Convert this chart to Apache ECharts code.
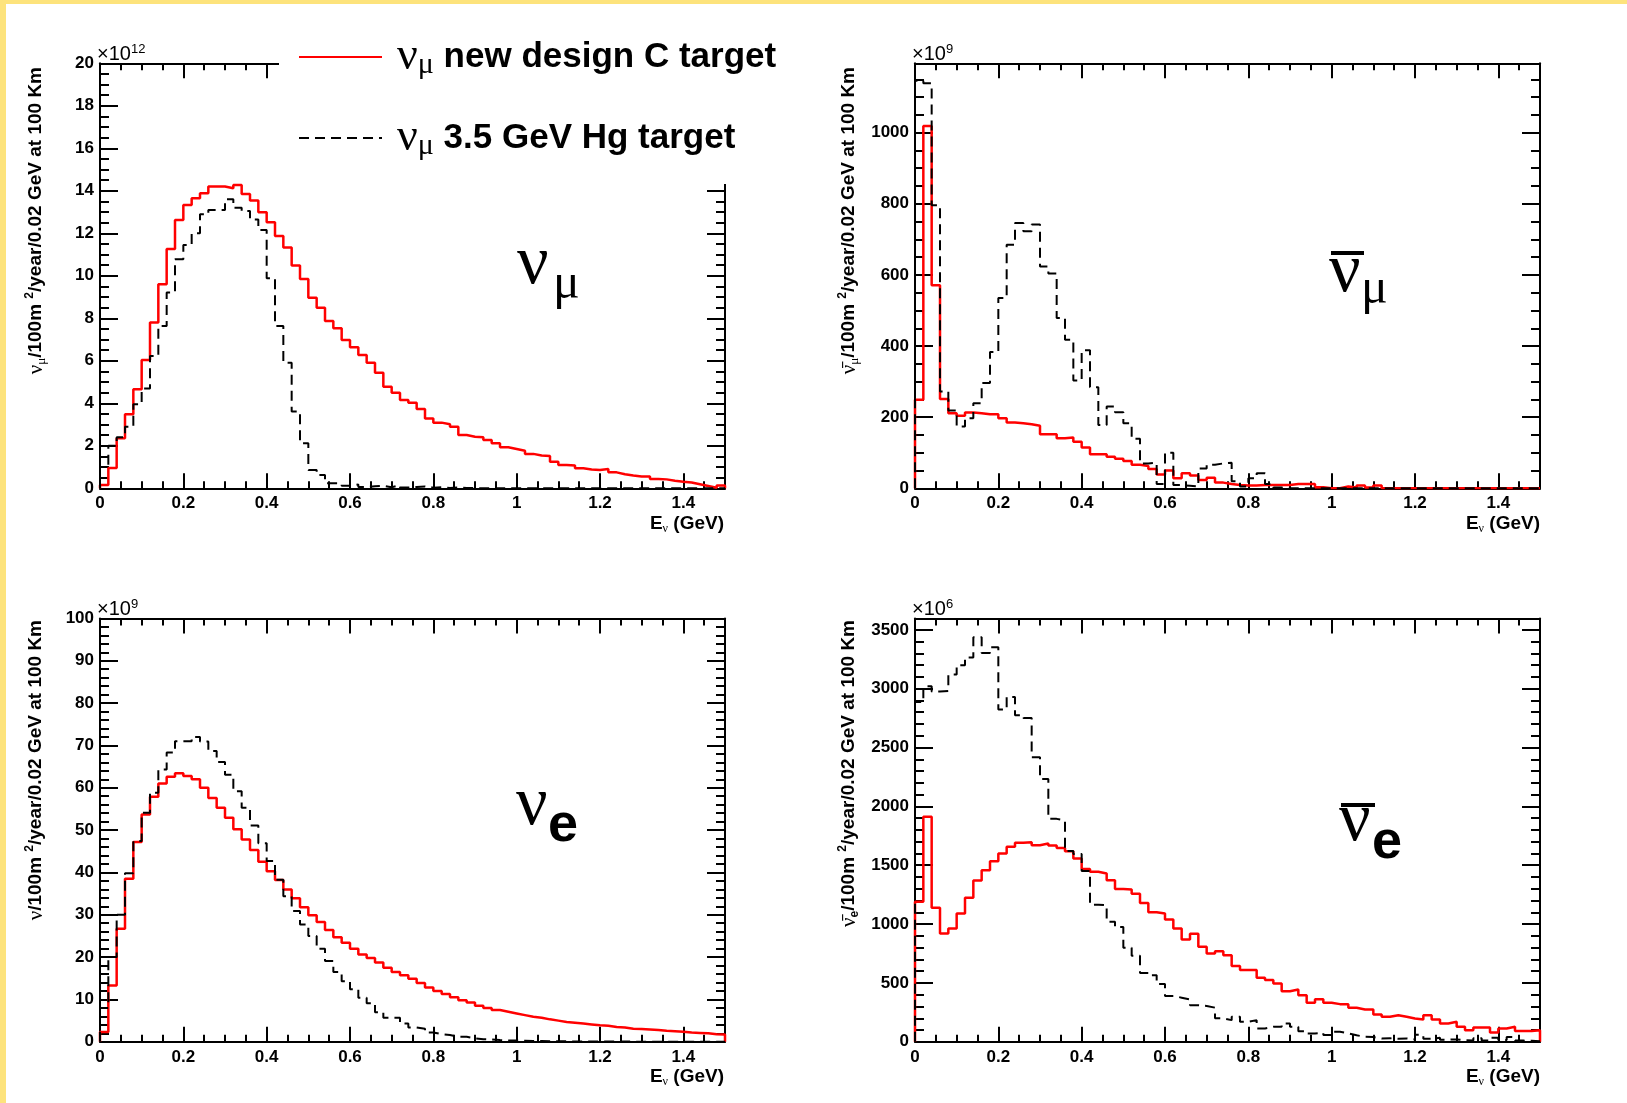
<!DOCTYPE html>
<html><head><meta charset="utf-8">
<script src="https://cdn.jsdelivr.net/npm/echarts@6/dist/echarts.min.js"></script>
<style>html,body{margin:0;padding:0;background:#fff}#c{width:1627px;height:1103px}</style>
</head><body><div id="c"></div><script>
// ---------------- data (bin width 0.02 GeV, 75 bins from 0 to 1.5 GeV) ----------------
const BIN = 0.02;
const EMAX = 1.5;
// nu_mu flux (x1e12)
const nuMuNew = [0.16,0.95,2.35,3.48,4.66,6.04,7.8,9.6,11.26,12.63,13.33,13.65,13.88,14.2,14.2,14.12,14.27,13.85,13.54,12.99,12.52,11.87,11.33,10.48,9.85,8.97,8.5,7.87,7.53,6.98,6.64,6.27,5.91,5.44,4.78,4.5,4.16,4.03,3.73,3.29,3.09,3.01,2.9,2.51,2.43,2.4,2.27,2.12,1.93,1.85,1.77,1.62,1.54,1.52,1.25,1.1,1.07,0.94,0.89,0.86,0.91,0.75,0.66,0.6,0.55,0.55,0.44,0.42,0.36,0.31,0.27,0.19,0.11,0.03,0.13];
const nuMuHg  = [1.0,2.0,2.4,2.9,3.95,4.7,6.23,7.64,9.22,10.78,11.45,12.0,12.9,13.1,13.1,13.6,13.2,13.05,12.65,12.16,9.88,7.64,5.91,3.61,2.12,0.86,0.63,0.24,0.24,0.12,0.18,0.06,0.1,0.12,0.05,0.14,0.04,0.06,0.09,0.03,0.05,0.02,0.04,0.02,0.01,0,0,0,0,0,0,0,0,0,0,0,0,0,0,0,0,0,0,0,0,0,0,0,0,0,0,0,0,0,0];
// anti nu_mu flux (x1e9)
const nuMuBarNew = [249,1019,571,251,211,204,213,211,208,208,197,185,183,180,176,152,152,141,143,131,115,96,96,89,83,77,66,63,54,39,50,28,42,36,23,30,16,12,9,8,8,9,9,9,9,12,12,12,3,0,0,5,2,8,2,8,0,0,0,0,0,0,0,0,0,0,0,0,0,0,0,0,0,0,0];
const nuMuBarHg  = [1146,1139,796,272,219,174,197,239,296,383,535,685,746,723,742,624,604,479,418,303,388,284,178,230,214,183,139,70,72,12,100,9,7,5,56,66,70,72,20,5,28,42,12,2,0,0,0,0,0,0,0,0,0,0,0,0,0,0,0,0,0,0,0,0,0,0,0,0,0,0,0,0,0,0,0];
// nu_e flux (x1e9)
const nuENew = [2.3,13.3,26.7,38.5,47.2,53.7,57.9,61.0,62.6,63.4,62.8,62.0,60.0,57.6,55.3,52.9,50.2,47.8,45.3,42.5,40.3,38.2,36.0,33.9,31.8,29.9,28.3,26.4,24.7,23.4,22.0,20.6,19.8,18.7,17.5,16.5,15.7,14.9,13.9,12.8,12.0,11.3,10.5,9.8,9.3,8.5,8.0,7.5,7.1,6.7,6.3,5.9,5.7,5.3,5.0,4.7,4.5,4.3,4.1,3.9,3.8,3.5,3.4,3.1,3.0,2.9,2.8,2.6,2.5,2.4,2.2,2.1,2.0,1.8,1.7];
const nuEHg  = [8,20,30,39.8,47.4,54.1,58.8,64.3,68.3,71.0,71.0,72.0,70.9,68.7,66.1,63.1,59.2,55.3,51.1,46.9,42.7,38.3,34.4,30.9,27.7,25.0,22.0,19.1,16.5,14.3,12.4,10.4,9.1,7.0,5.7,5.7,4.3,3.4,3.1,2.2,1.8,1.6,1.2,1.2,0.8,0.6,0.55,0.4,0.3,0.3,0.25,0.2,0.2,0.15,0.15,0.1,0.1,0.08,0.08,0.06,0.06,0.05,0.05,0.04,0.04,0.03,0.02,0.02,0.02,0.01,0.01,0.01,0,0,0];
// anti nu_e flux (x1e6)
const nuEBarNew = [1189,1911,1138,920,962,1090,1223,1370,1458,1534,1599,1656,1690,1695,1670,1684,1667,1647,1619,1557,1469,1444,1429,1373,1299,1294,1257,1180,1101,1090,1039,962,869,917,807,750,770,736,643,609,609,544,524,495,430,444,396,331,362,331,320,320,289,275,275,232,212,226,212,198,190,226,190,156,170,127,99,122,122,80,113,127,91,91,99];
const nuEBarHg  = [2887,3020,2975,2980,3120,3200,3265,3436,3303,3351,2822,2930,2774,2751,2417,2233,1894,1880,1620,1596,1450,1165,1160,1020,975,800,730,585,565,490,390,375,360,310,305,290,200,184,212,170,184,113,127,127,156,127,90,71,76,57,85,71,55,42,40,28,30,25,28,20,60,25,35,18,20,14,12,30,12,35,15,40,10,8,5];

const seriesNames = ['new design C target', '3.5 GeV Hg target'];
const xTickLabels = ['0','0.2','0.4','0.6','0.8','1','1.2','1.4'];

// ---------------- layout / style ----------------
const SANS = '"Liberation Sans", Arial, Helvetica, sans-serif';
const SERIF = '"Liberation Serif", "Times New Roman", serif';

const panels = [
  {left:100, top:63.3, width:625, height:425, ymax:20, major:2, minor:0.5, red:nuMuNew, black:nuMuHg, hideMax:false},
  {left:915, top:63.3, width:625, height:425, ymax:1195, major:200, minor:50, red:nuMuBarNew, black:nuMuBarHg, hideMax:true},
  {left:100, top:618.4, width:625, height:423.4, ymax:100, major:10, minor:2, red:nuENew, black:nuEHg, hideMax:false},
  {left:915, top:618.4, width:625, height:423.4, ymax:3597, major:500, minor:100, red:nuEBarNew, black:nuEBarHg, hideMax:true}
];

function histPoints(vals){
  const pts = [[0,0]];
  vals.forEach((v,i)=>pts.push([+(i*BIN).toFixed(2), v]));
  pts.push([EMAX, vals[vals.length-1]]);
  pts.push([EMAX, 0]);
  return pts;
}

const lineAx = {show:true, onZero:false, lineStyle:{color:'#000', width:2}};
const noLine = {show:false, onZero:false};
function tick(len){ return {show:true, inside:true, length:len, lineStyle:{color:'#000', width:2}}; }
const labelStyle = {color:'#000', fontFamily:SANS, fontWeight:'bold', fontSize:17};
const xFmt = (v)=>{const k=Math.round(v/0.2); return (Math.abs(v-k*0.2)<1e-6 && k<xTickLabels.length)? xTickLabels[k] : '';};

const grid=[], xAxis=[], yAxis=[], series=[];
panels.forEach((p,g)=>{
  const gm = 2*g, gn = 2*g+1;   // major-tick grid and minor-tick grid share the same rectangle
  const rect = {left:p.left, top:p.top, width:p.width, height:p.height, containLabel:false};
  grid.push(Object.assign({}, rect), Object.assign({}, rect));
  // x axes
  xAxis.push({type:'value', gridIndex:gm, position:'bottom', offset:0, min:0, max:EMAX, interval:0.2,
    axisLine:lineAx, axisTick:tick(15), splitLine:{show:false},
    axisLabel:Object.assign({show:true, margin:7, showMaxLabel:false, formatter:xFmt}, labelStyle)});
  xAxis.push({type:'value', gridIndex:gm, position:'top', offset:0, min:0, max:EMAX, interval:0.2,
    axisLine:lineAx, axisTick:tick(15), axisLabel:{show:false}, splitLine:{show:false}});
  xAxis.push({type:'value', gridIndex:gn, position:'bottom', offset:0, min:0, max:EMAX, interval:0.05,
    axisLine:noLine, axisTick:tick(7), axisLabel:{show:false}, splitLine:{show:false}});
  xAxis.push({type:'value', gridIndex:gn, position:'top', offset:0, min:0, max:EMAX, interval:0.05,
    axisLine:noLine, axisTick:tick(7), axisLabel:{show:false}, splitLine:{show:false}});
  // y axes
  yAxis.push({type:'value', gridIndex:gm, position:'left', offset:0, min:0, max:p.ymax, interval:p.major,
    axisLine:lineAx, axisTick:tick(18), splitLine:{show:false},
    axisLabel:Object.assign({show:true, margin:6, showMaxLabel:!p.hideMax, formatter:(v)=>String(v)}, labelStyle)});
  yAxis.push({type:'value', gridIndex:gm, position:'right', offset:0, min:0, max:p.ymax, interval:p.major,
    axisLine:lineAx, axisTick:tick(18), axisLabel:{show:false}, splitLine:{show:false}});
  yAxis.push({type:'value', gridIndex:gn, position:'left', offset:0, min:0, max:p.ymax, interval:p.minor,
    axisLine:noLine, axisTick:tick(9), axisLabel:{show:false}, splitLine:{show:false}});
  yAxis.push({type:'value', gridIndex:gn, position:'right', offset:0, min:0, max:p.ymax, interval:p.minor,
    axisLine:noLine, axisTick:tick(9), axisLabel:{show:false}, splitLine:{show:false}});

  series.push({type:'line', name:seriesNames[0], xAxisIndex:4*g, yAxisIndex:4*g, step:'end', symbol:'none',
    data:histPoints(p.red), lineStyle:{color:'#ff0000', width:2.5}, itemStyle:{color:'#ff0000'}, z:2});
  series.push({type:'line', name:seriesNames[1], xAxisIndex:4*g, yAxisIndex:4*g, step:'end', symbol:'none',
    data:histPoints(p.black), lineStyle:{color:'#000', width:2, type:[10,6]}, itemStyle:{color:'#000'}, z:3});
});

// ---------------- text ----------------
const yTitleRich = {
  g:{fontFamily:SERIF, fontWeight:'normal', fontSize:21, lineHeight:24},
  sb:{fontFamily:SERIF, fontWeight:'normal', fontSize:13, lineHeight:13, verticalAlign:'bottom'},
  sbs:{fontFamily:SANS, fontWeight:'bold', fontSize:12, lineHeight:12, verticalAlign:'bottom'},
  sp:{fontFamily:SANS, fontWeight:'bold', fontSize:12, lineHeight:12, verticalAlign:'top'}
};
const yTitles = [
  {x:36, y:67, text:'{g|ν}{sb|μ}/100m {sp|2}/year/0.02 GeV at 100 Km'},
  {x:849, y:67, text:'{g|ν̄}{sb|μ}/100m {sp|2}/year/0.02 GeV at 100 Km'},
  {x:36, y:620, text:'{g|ν}/100m {sp|2}/year/0.02 GeV at 100 Km'},
  {x:849, y:620, text:'{g|ν̄}{sbs|e}/100m {sp|2}/year/0.02 GeV at 100 Km'}
];
const expLabels = [
  {x:97, y:65, text:'×10{sp|12}'},
  {x:912, y:65, text:'×10{sp|9}'},
  {x:97, y:620, text:'×10{sp|9}'},
  {x:912, y:620, text:'×10{sp|6}'}
];
const xTitles = [
  {x:724, y:535}, {x:1540, y:535}, {x:724, y:1088}, {x:1540, y:1088}
];

const graphic = [
  {type:'rect', shape:{x:0,y:0,width:1627,height:4}, style:{fill:'#FDE37C'}, z:0, silent:true},
  {type:'rect', shape:{x:0,y:0,width:6,height:1103}, style:{fill:'#FDE37C'}, z:0, silent:true},
  // legend background (white, covers part of the frame)
  {type:'rect', shape:{x:279,y:20,width:520,height:164}, style:{fill:'#fff'}, z:3, silent:true}
];
yTitles.forEach(t=>graphic.push({type:'text', x:t.x, y:t.y, rotation:Math.PI/2, z:5, silent:true,
  style:{text:t.text, fill:'#000', font:'bold 19px '+SANS, lineHeight:24, textAlign:'right', textVerticalAlign:'middle', verticalAlign:'middle', rich:yTitleRich}}));
expLabels.forEach(t=>graphic.push({type:'text', x:t.x, y:t.y, z:5, silent:true,
  style:{text:t.text, fill:'#000', font:'20px '+SANS, lineHeight:22, textAlign:'left', textVerticalAlign:'bottom', verticalAlign:'bottom',
    rich:{sp:{fontFamily:SANS, fontSize:13, lineHeight:13, verticalAlign:'top'}}}}));
xTitles.forEach(t=>graphic.push({type:'text', x:t.x, y:t.y, z:5, silent:true,
  style:{text:'E{sb|ν} (GeV)', fill:'#000', font:'bold 19px '+SANS, lineHeight:22, textAlign:'right', textVerticalAlign:'bottom', verticalAlign:'bottom',
    rich:{sb:{fontFamily:SERIF, fontWeight:'normal', fontSize:12, lineHeight:12, verticalAlign:'bottom'}}}}));

// big panel labels
function big(x,y,text,font){ return {type:'text', x:x, y:y, z:5, silent:true, style:{text:text, fill:'#000', font:font, textAlign:'left', textVerticalAlign:'middle', verticalAlign:'middle'}}; }
const NU = '70px '+SERIF, MU = '50px '+SERIF, EE = 'bold 54px '+SANS;
graphic.push(big(517,265,'ν',NU), big(553,285,'μ',MU));
graphic.push(big(1329,273,'ν',NU), big(1361,290,'μ',MU));
graphic.push({type:'rect', shape:{x:1331,y:251,width:33,height:4}, style:{fill:'#000'}, z:5, silent:true});
graphic.push(big(516,806,'ν',NU), big(548,826,'e',EE));
graphic.push(big(1339,822,'ν',NU), big(1372,843,'e',EE));
graphic.push({type:'rect', shape:{x:1341,y:803,width:34,height:4}, style:{fill:'#000'}, z:5, silent:true});

const option = {
  animation:false,
  backgroundColor:'#fff',
  grid, xAxis, yAxis, series, graphic,
  legend:{
    show:true, orient:'vertical', left:293, top:29, itemWidth:83, itemHeight:20, itemGap:35,
    selectedMode:false, data:seriesNames, z:6,
    itemStyle:{opacity:0, borderWidth:0},
    formatter:(name)=>'{n|ν}{s|μ}{t| '+name+'}',
    textStyle:{color:'#000', padding:[0,0,0,10], rich:{
      n:{fontFamily:SERIF, fontSize:46, lineHeight:46, color:'#000'},
      s:{fontFamily:SERIF, fontSize:30, lineHeight:30, verticalAlign:'bottom', color:'#000'},
      t:{fontFamily:SANS, fontWeight:'bold', fontSize:35, lineHeight:46, color:'#000'}
    }}
  }
};
const chart = echarts.init(document.getElementById('c'), null, {renderer:'canvas'});
chart.setOption(option);
</script></body></html>
